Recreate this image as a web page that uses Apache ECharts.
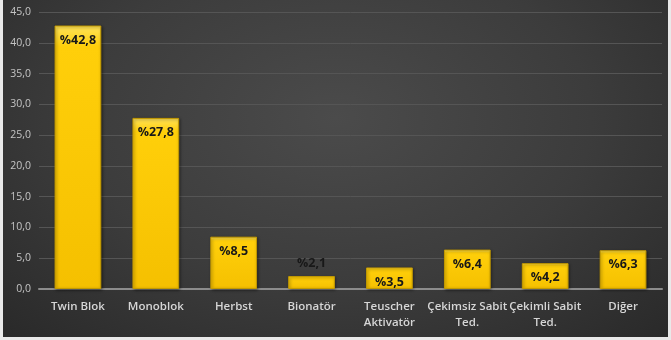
<!DOCTYPE html>
<html>
<head>
<meta charset="utf-8">
<script src="https://cdn.jsdelivr.net/npm/echarts@6/dist/echarts.min.js"></script>
<style>
  html, body { margin: 0; padding: 0; background: #e9e9e9; }
  #chart {
    position: absolute; left: 3px; top: 0; width: 665px; height: 337px;
    background: radial-gradient(ellipse 70% 90% at 50% 35%, #4b4b4b 0%, #3c3c3c 55%, #2a2a2a 100%);
  }
</style>
</head>
<body>
<div id="chart"></div>
<script>
// Appliance categories and their share (%)
const categories = ['Twin Blok', 'Monoblok', 'Herbst', 'Bionatör', 'Teuscher\nAktivatör', 'Çekimsiz Sabit\nTed.', 'Çekimli Sabit\nTed.', 'Diğer'];
const shares = [42.8, 27.8, 8.5, 2.1, 3.5, 6.4, 4.2, 6.3];
// Bars whose value label sits above the bar instead of inside it
const labelsOutside = ['Bionatör'];

const chart = echarts.init(document.getElementById('chart'), null, { renderer: 'canvas' });

const barFill = new echarts.graphic.LinearGradient(0, 0, 0, 1, [
  { offset: 0, color: '#ffe35a' },
  { offset: 0.08, color: '#ffcf0a' },
  { offset: 1, color: '#f5c000' }
]);

const fmt = v => '%' + v.toFixed(1).replace('.', ',');

chart.setOption({
  backgroundColor: 'transparent',
  animation: false,
  grid: { left: 36, right: 6, top: 12, bottom: 48 },
  xAxis: {
    type: 'category',
    data: categories,
    axisLine: { lineStyle: { color: '#8c8c8c', width: 2 } },
    axisTick: { show: false },
    axisLabel: {
      color: '#d6d6d6', fontFamily: 'Open Sans', fontSize: 11.5, fontWeight: 600,
      margin: 10, lineHeight: 16, interval: 0
    }
  },
  yAxis: {
    type: 'value', min: 0, max: 45, interval: 5,
    axisLine: { show: false },
    axisTick: { show: false },
    splitLine: { lineStyle: { color: '#555555', width: 1 } },
    axisLabel: {
      color: '#c4c4c4', fontFamily: 'Open Sans', fontSize: 10.5, margin: 8,
      formatter: v => v.toFixed(1).replace('.', ',')
    }
  },
  series: [{
    type: 'bar',
    barWidth: '60%',
    data: shares.map((v, i) => ({
      value: v,
      label: labelsOutside.includes(categories[i])
        ? { position: 'top', distance: 6 }
        : { position: 'insideTop', distance: 8 }
    })),
    itemStyle: {
      color: barFill,
      borderColor: '#c49a00',
      borderWidth: 1,
      shadowColor: 'rgba(0,0,0,0.45)',
      shadowBlur: 3,
      shadowOffsetX: 1,
      shadowOffsetY: 1
    },
    label: {
      show: true,
      color: '#181818',
      fontFamily: 'Open Sans',
      fontWeight: 'bold',
      fontSize: 12.5,
      formatter: p => fmt(p.value)
    }
  }]
});
</script>
</body>
</html>
